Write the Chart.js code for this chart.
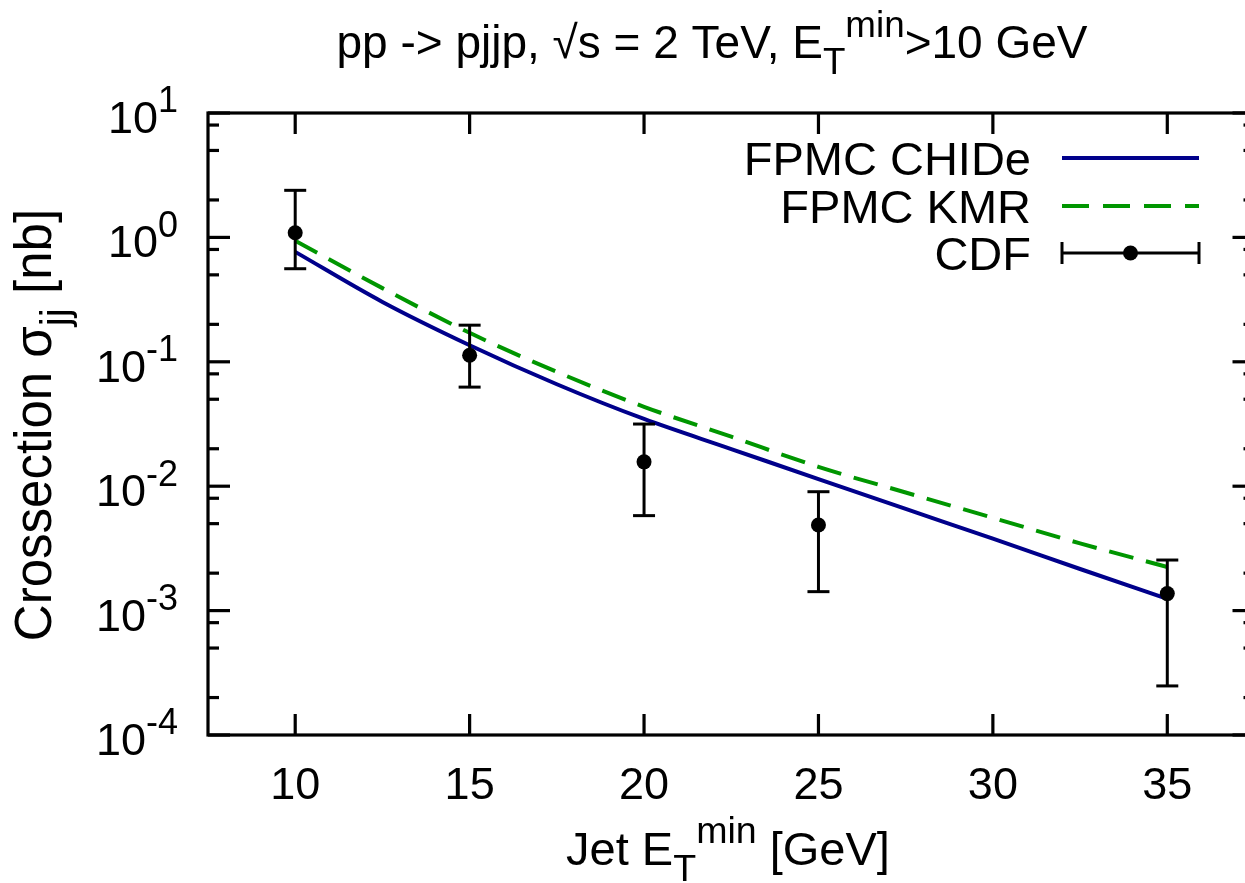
<!DOCTYPE html>
<html><head><meta charset="utf-8">
<script src="https://cdn.jsdelivr.net/npm/chart.js@4/dist/chart.umd.min.js"></script>
<style>
html,body{margin:0;padding:0;overflow:hidden;background:#fff}
#wrap{width:1262px;height:883px;position:relative}
</style>
</head><body>
<div id="wrap"><canvas id="c"></canvas></div>
<script>
// ---- data ----
const etMin = [10, 12.5, 15, 17.5, 20, 22.5, 25, 27.5, 30, 32.5, 35];
const chide = [0.765, 0.303, 0.136, 0.066, 0.0347, 0.0199, 0.0114, 0.00656, 0.00379, 0.00216, 0.00124];
const kmr   = [0.94, 0.391, 0.171, 0.083, 0.0435, 0.025, 0.0143, 0.0089, 0.00557, 0.00347, 0.00224];
const cdfX    = [10, 15, 20, 25, 35];
const cdfY    = [1.09, 0.113, 0.0157, 0.00488, 0.00137];
const cdfLow  = [0.56, 0.0626, 0.0058, 0.00142, 0.000248];
const cdfHigh = [2.39, 0.197, 0.0316, 0.00903, 0.00255];
const xTicks = [10, 15, 20, 25, 30, 35];
const yExps = [1, 0, -1, -2, -3, -4];
const yMinor = [2, 5, 8];
const seriesNames = ['FPMC CHIDe', 'FPMC KMR', 'CDF'];

const FONT = '"Liberation Sans", Arial, Helvetica, sans-serif';
const FS = 45;
const BLUE = '#00008b';
const GREEN = '#009600';

function pts(xs, ys) { return xs.map((v, i) => ({x: v, y: ys[i]})); }

// rich text: segs = [[text, kind]] kind 0 normal, 1 sub, 2 sup
function richWidth(ctx, segs, fs) {
  let w = 0;
  segs.forEach(([t, k]) => { ctx.font = (k ? fs * 0.8 : fs) + 'px ' + FONT; w += ctx.measureText(t).width; });
  return w;
}
function drawRich(ctx, segs, x, y, align, fs) {
  fs = fs || FS;
  const w = richWidth(ctx, segs, fs);
  let cx = align === 'center' ? x - w / 2 : align === 'right' ? x - w : x;
  ctx.textAlign = 'left';
  ctx.textBaseline = 'alphabetic';
  segs.forEach(([t, k]) => {
    const s = k ? fs * 0.8 : fs;
    ctx.font = s + 'px ' + FONT;
    const dy = k === 1 ? fs * 0.35 : k === 2 ? -fs * 0.46 : 0;
    ctx.fillText(t, cx, y + dy);
    cx += ctx.measureText(t).width;
  });
}
function seg(ctx, x1, y1, x2, y2) { ctx.beginPath(); ctx.moveTo(x1, y1); ctx.lineTo(x2, y2); ctx.stroke(); }

const deco = {
  id: 'deco',
  afterDatasetsDraw(chart) {
    const {ctx, scales: {x, y}} = chart;
    ctx.save();
    ctx.strokeStyle = '#000'; ctx.lineWidth = 3;
    cdfX.forEach((v, i) => {
      const px = x.getPixelForValue(v);
      const yl = y.getPixelForValue(cdfLow[i]);
      const yh = y.getPixelForValue(cdfHigh[i]);
      seg(ctx, px, yl, px, yh);
      seg(ctx, px - 11, yl, px + 11, yl);
      seg(ctx, px - 11, yh, px + 11, yh);
    });
    ctx.restore();
  },
  afterDraw(chart) {
    const {ctx, chartArea: a, scales: {x, y}} = chart;
    ctx.save();
    ctx.strokeStyle = '#000'; ctx.fillStyle = '#000'; ctx.lineWidth = 3.2;
    ctx.lineCap = 'butt';
    ctx.strokeRect(a.left, a.top, a.right - a.left, a.bottom - a.top);
    // x ticks
    xTicks.forEach(v => {
      const px = x.getPixelForValue(v);
      seg(ctx, px, a.bottom, px, a.bottom - 21);
      seg(ctx, px, a.top, px, a.top + 21);
      ctx.font = FS + 'px ' + FONT; ctx.textAlign = 'center'; ctx.textBaseline = 'alphabetic';
      ctx.fillText(String(v), px, 799);
    });
    // y ticks
    yExps.forEach(e => {
      const py = y.getPixelForValue(Math.pow(10, e));
      seg(ctx, a.left, py, a.left + 22, py);
      seg(ctx, a.right, py, a.right - 22, py);
      drawRich(ctx, [['10', 0], [String(e), 2]], 178, py + 20, 'right');
    });
    for (let e = -4; e < 1; e++) {
      yMinor.forEach(m => {
        const py = y.getPixelForValue(m * Math.pow(10, e));
        seg(ctx, a.left, py, a.left + 11, py);
        seg(ctx, a.right, py, a.right - 11, py);
      });
    }
    // title
    drawRich(ctx, [['pp -> pjjp, \u221As = 2 TeV, E', 0], ['T', 1], ['min', 2], ['>10 GeV', 0]], 712, 58, 'center', 46);
    // x title
    drawRich(ctx, [['Jet E', 0], ['T', 1], ['min', 2], [' [GeV]', 0]], 728, 865, 'center', 47);
    // y title
    ctx.save();
    ctx.translate(51, 425);
    ctx.rotate(-Math.PI / 2);
    drawRich(ctx, [['Crossection \u03C3', 0], ['jj', 1], [' [nb]', 0]], 0, 0, 'center', 51);
    ctx.restore();
    // legend
    const lx1 = 1062, lx2 = 1199, rows = [158, 206, 253];
    ctx.font = '47px ' + FONT; ctx.textAlign = 'right'; ctx.textBaseline = 'alphabetic';
    seriesNames.forEach((n, i) => ctx.fillText(n, 1031, rows[i] + 17));
    ctx.lineWidth = 4;
    ctx.strokeStyle = BLUE; seg(ctx, lx1, rows[0], lx2, rows[0]);
    ctx.strokeStyle = GREEN; ctx.setLineDash([27, 14]); seg(ctx, lx1, rows[1], lx2, rows[1]); ctx.setLineDash([]);
    ctx.strokeStyle = '#000'; ctx.lineWidth = 3;
    seg(ctx, lx1, rows[2], lx2, rows[2]);
    seg(ctx, lx1, rows[2] - 11, lx1, rows[2] + 11);
    seg(ctx, lx2, rows[2] - 11, lx2, rows[2] + 11);
    ctx.beginPath(); ctx.arc((lx1 + lx2) / 2, rows[2], 7.5, 0, Math.PI * 2); ctx.fill();
    ctx.restore();
  }
};

new Chart(document.getElementById('c'), {
  type: 'scatter',
  data: {
    datasets: [
      {label: seriesNames[2], data: pts(cdfX, cdfY), showLine: false, pointRadius: 7.5,
       pointBackgroundColor: '#000', pointBorderWidth: 0, order: 0},
      {label: seriesNames[1], data: pts(etMin, kmr), showLine: true, borderColor: GREEN, borderWidth: 4,
       borderDash: [25, 13], pointRadius: 0, cubicInterpolationMode: 'monotone', order: 1},
      {label: seriesNames[0], data: pts(etMin, chide), showLine: true, borderColor: BLUE, borderWidth: 4,
       pointRadius: 0, cubicInterpolationMode: 'monotone', order: 2}
    ]
  },
  options: {
    animation: false, responsive: true, maintainAspectRatio: false, devicePixelRatio: 1,
    layout: {padding: {left: 208, top: 113, right: 6, bottom: 148}},
    scales: {
      x: {type: 'linear', min: 7.5, max: 37.5, display: false},
      y: {type: 'logarithmic', min: 1e-4, max: 10, display: false}
    },
    plugins: {legend: {display: false}, title: {display: false}, tooltip: {enabled: false}}
  },
  plugins: [deco]
});
</script>
</body></html>
